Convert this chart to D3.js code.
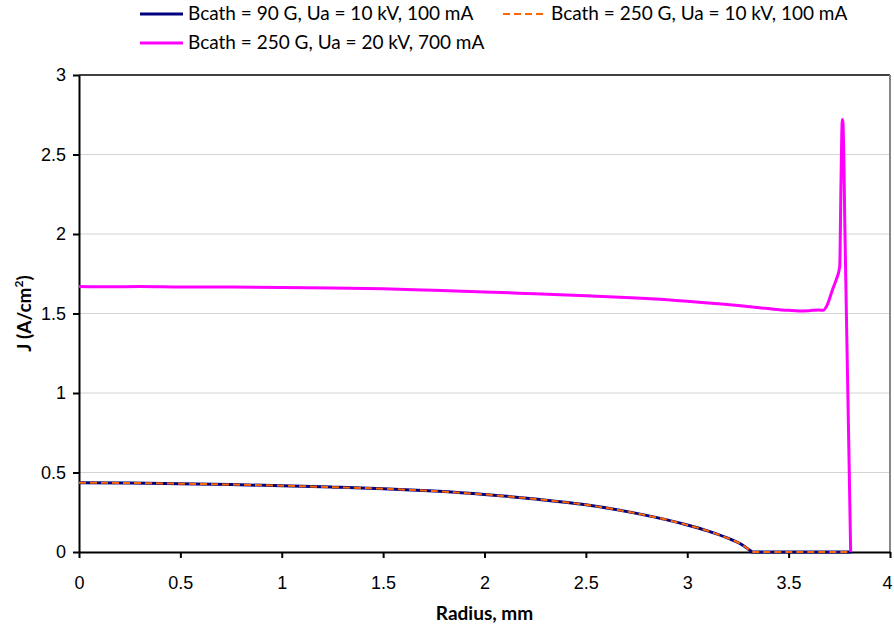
<!DOCTYPE html>
<html>
<head>
<meta charset="utf-8">
<script src="https://cdn.jsdelivr.net/npm/d3@7"></script>
<style>
  body { margin: 0; background: #fff; }
  svg { display: block; font-family: Lato, "Open Sans", sans-serif; }
  .grid line { stroke: #d4d4d4; stroke-width: 1; }
  .axis path, .axis line { stroke: #000; stroke-width: 2; }
  .axis text { font-size: 18px; fill: #000; }
  .title { font-size: 19px; font-weight: bold; }
  .legend text { font-size: 19px; }
</style>
</head>
<body>
<div id="container"></div>
<script>
// radius (mm) and current density (A/cm2)
const r90 = [0, 0.25, 0.5, 0.75, 1.0, 1.25, 1.5, 1.75, 2.0, 2.25, 2.5, 2.75, 3.0, 3.1, 3.2, 3.27, 3.32, 3.5, 3.81];
const j90 = [0.436, 0.434, 0.430, 0.424, 0.417, 0.408, 0.398, 0.383, 0.362, 0.333, 0.297, 0.243, 0.170, 0.133, 0.087, 0.046, 0, 0, 0];

const r250 = [0, 0.25, 0.5, 0.75, 1.0, 1.25, 1.5, 1.75, 2.0, 2.25, 2.5, 2.75, 3.0, 3.1, 3.2, 3.27, 3.32, 3.5, 3.81];
const j250 = [0.436, 0.434, 0.430, 0.424, 0.417, 0.408, 0.398, 0.383, 0.362, 0.333, 0.297, 0.243, 0.170, 0.133, 0.087, 0.046, 0, 0, 0];

const r700 = [0, 0.15, 0.3, 0.5, 0.75, 1.0, 1.25, 1.5, 1.75, 2.0, 2.25, 2.5, 2.75, 3.0, 3.25, 3.4, 3.5, 3.55, 3.6, 3.65, 3.67, 3.69, 3.716, 3.734, 3.752, 3.758, 3.762, 3.765, 3.768, 3.778, 3.787, 3.797, 3.806];
const j700 = [1.670, 1.668, 1.670, 1.667, 1.666, 1.664, 1.660, 1.655, 1.646, 1.636, 1.624, 1.612, 1.597, 1.577, 1.550, 1.531, 1.520, 1.516, 1.518, 1.522, 1.520, 1.553, 1.648, 1.710, 1.795, 2.30, 2.62, 2.72, 2.70, 2.00, 1.35, 0.65, 0];

const seriesNames = ["Bcath = 90 G, Ua = 10 kV, 100 mA", "Bcath = 250 G, Ua = 10 kV, 100 mA", "Bcath = 250 G, Ua = 20 kV, 700 mA"];
const seriesColors = ["#000080", "#ff6600", "#ff00ff"];
const xTicks = [0, 0.5, 1, 1.5, 2, 2.5, 3, 3.5, 4];
const yTicks = [0, 0.5, 1, 1.5, 2, 2.5, 3];

const w = 894, h = 631;
const margin = {top: 75, right: 4, bottom: 79, left: 79};

const x = d3.scaleLinear().domain([0, 4]).range([margin.left, w - margin.right]);
const y = d3.scaleLinear().domain([0, 3]).range([h - margin.bottom, margin.top]);

let svg = d3.select("#container")
    .append("svg")
    .attr("width", w)
    .attr("height", h);

// gridlines
svg.append("g")
    .attr("class", "grid")
    .selectAll("line")
    .data(yTicks.slice(1, -1))
    .enter()
    .append("line")
    .attr("x1", x(0)).attr("x2", x(4))
    .attr("y1", d => y(d)).attr("y2", d => y(d));

// plot border: dark top, grey right
svg.append("line")
    .attr("x1", x(0)).attr("x2", x(4))
    .attr("y1", y(3)).attr("y2", y(3))
    .attr("stroke", "#000").attr("stroke-width", 1.5);
svg.append("line")
    .attr("x1", x(4)).attr("x2", x(4))
    .attr("y1", y(3)).attr("y2", y(0))
    .attr("stroke", "#888").attr("stroke-width", 2);

let xAxis = svg.append("g")
    .attr("class", "axis")
    .attr("transform", "translate(0," + y(0) + ")")
    .call(d3.axisBottom(x).tickValues(xTicks).tickSize(6).tickSizeOuter(0).tickPadding(18).tickFormat(d3.format("")));
// last label sits at the window edge, keep it inside
xAxis.selectAll(".tick")
    .filter(d => d == 4)
    .select("text")
    .attr("text-anchor", "end")
    .attr("dx", 2);

svg.append("g")
    .attr("class", "axis")
    .attr("transform", "translate(" + x(0) + ",0)")
    .call(d3.axisLeft(y).tickValues(yTicks).tickSize(6).tickSizeOuter(0).tickPadding(7).tickFormat(d3.format("")));

const smooth = d3.line()
    .x(d => x(d[0]))
    .y(d => y(d[1]))
    .curve(d3.curveMonotoneX);
const straight = d3.line()
    .x(d => x(d[0]))
    .y(d => y(d[1]));

const zip = (a, b) => a.map((v, i) => [v, b[i]]);

// curve down to the first zero, then straight along zero
function lowPath(rs, js) {
    const pts = zip(rs, js);
    const k = js.indexOf(0);
    return smooth(pts.slice(0, k + 1)) + straight(pts.slice(k)).replace(/^M/, "L");
}

svg.append("path")
    .attr("d", lowPath(r90, j90))
    .attr("fill", "none")
    .attr("stroke", seriesColors[0])
    .attr("stroke-width", 3);

svg.append("path")
    .attr("d", lowPath(r250, j250))
    .attr("fill", "none")
    .attr("stroke", seriesColors[1])
    .attr("stroke-width", 2)
    .attr("stroke-dasharray", "7,4");

svg.append("path")
    .datum(zip(r700, j700))
    .attr("d", smooth)
    .attr("fill", "none")
    .attr("stroke", seriesColors[2])
    .attr("stroke-width", 3)
    .attr("stroke-linejoin", "round");

// axis titles
svg.append("text")
    .attr("class", "title")
    .attr("x", (x(0) + x(4)) / 2)
    .attr("y", 620)
    .attr("text-anchor", "middle")
    .text("Radius, mm");

let yTitle = svg.append("text")
    .attr("class", "title")
    .attr("transform", "translate(31," + ((y(0) + y(3)) / 2) + ") rotate(-90)")
    .attr("text-anchor", "middle");
yTitle.append("tspan").text("J (A/cm");
yTitle.append("tspan").attr("dy", -8).attr("font-size", "12px").text("2");
yTitle.append("tspan").attr("dy", 8).text(")");

// legend
const legendPos = [[140, 14], [503, 14], [140, 43]];
let legend = svg.append("g").attr("class", "legend");
seriesNames.forEach((name, i) => {
    const [lx, ly] = legendPos[i];
    legend.append("line")
        .attr("x1", lx).attr("x2", lx + 43)
        .attr("y1", ly).attr("y2", ly)
        .attr("stroke", seriesColors[i])
        .attr("stroke-width", i == 1 ? 2 : 3)
        .attr("stroke-dasharray", i == 1 ? "7,4" : null);
    legend.append("text")
        .attr("x", lx + 48)
        .attr("y", ly + 6)
        .text(name);
});
</script>
</body>
</html>
